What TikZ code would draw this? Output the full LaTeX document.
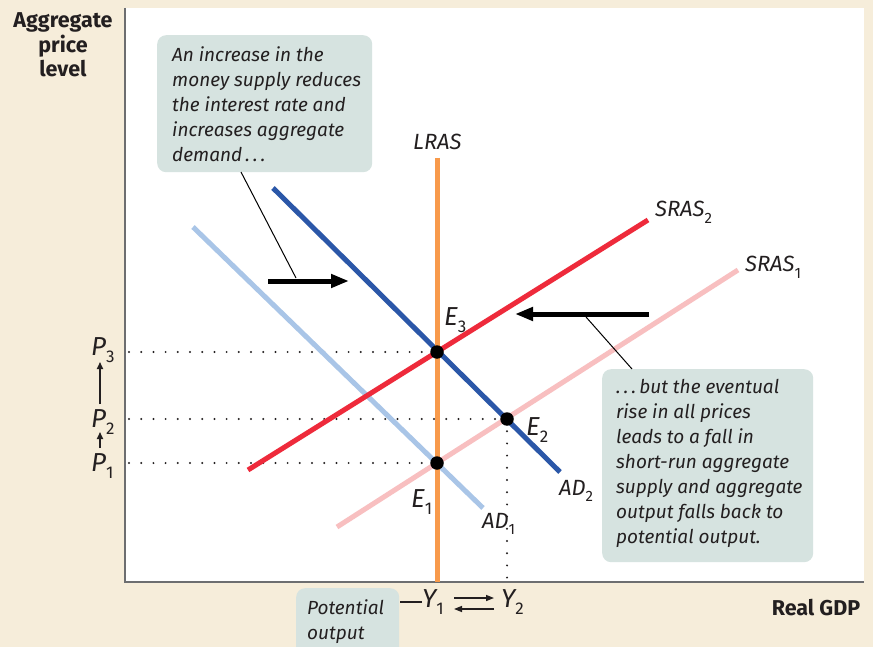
\documentclass[tikz,border=0pt]{standalone}
\usepackage{fontspec}
\setmainfont{Fira Sans}
\usetikzlibrary{arrows.meta}
\definecolor{bgc}{RGB}{246,237,218}
\definecolor{callc}{RGB}{214,227,224}
\definecolor{lrasc}{RGB}{248,154,75}
\definecolor{adtwo}{RGB}{43,87,168}
\definecolor{adone}{RGB}{169,197,231}
\definecolor{srastwo}{RGB}{238,42,59}
\definecolor{srasone}{RGB}{248,191,192}
\definecolor{axisc}{RGB}{109,110,112}
\definecolor{txt}{RGB}{35,31,32}
\newcommand\mysub[1]{\raisebox{-0.3em}{\fontsize{15}{15}\selectfont\upshape #1}}
\newcommand\mybigsub[1]{\raisebox{-0.28em}{\fontsize{17}{17}\selectfont\upshape #1}}
\begin{document}
\begin{tikzpicture}[x=1pt,y=-1pt,
  curve/.style={line width=5pt},
  dotline/.style={line width=2.2pt, line cap=round, dash pattern=on 0pt off 12.2pt, txt},
  eqdot/.style={circle, fill=black, minimum size=13.5pt, inner sep=0pt},
  glabel/.style={font=\fontsize{22}{24}\selectfont\itshape, text=txt, inner sep=0pt, anchor=base west},
  biglabel/.style={font=\fontsize{26}{28}\selectfont\itshape, text=txt, inner sep=0pt, anchor=base west},
  axlabel/.style={font=\fontsize{21.5}{24.5}\selectfont\bfseries, text=txt, align=center, inner sep=0pt},
  calloutbox/.style={fill=callc, rounded corners=9pt, anchor=north west, inner sep=0pt},
  callouttext/.style={font=\fontsize{19}{25}\selectfont\itshape, text=txt, align=left, inner sep=0pt, anchor=north west},
  shiftarrow/.style={line width=5pt, -{Triangle[length=18pt,width=13pt]}},
  leader/.style={line width=1pt, black},
  smallarrow/.style={line width=1.6pt, txt, -{Triangle[length=7pt,width=6pt]}}
]
\useasboundingbox (0,0) rectangle (873,647);
\fill[bgc] (0,0) rectangle (873,647);
\fill[white] (125,8) rectangle (864,582);

% axes
\coordinate (otop) at (125,8);
\coordinate (orig) at (125,582);
\coordinate (xend) at (864,582);
\draw[axisc, line width=2pt] (otop) -- (orig) -- (xend);

% axis labels
\node[axlabel, anchor=north] (ylab) at (63,12.5) {Aggregate\\price\\level};
\node[axlabel, anchor=base] (xlab) at (816,615) {Real GDP};

% curve endpoints
\coordinate (lrasT) at (437,158);
\coordinate (lrasB) at (437,582);
\coordinate (ad1a) at (193,227);
\coordinate (ad1b) at (483,508);
\coordinate (ad2a) at (273,188);
\coordinate (ad2b) at (560,472);
\coordinate (s1a) at (337,527);
\coordinate (s1b) at (738,270);
\coordinate (s2a) at (248,470);
\coordinate (s2b) at (648,220);

% equilibria
\coordinate (E1c) at (437,463);
\coordinate (E2c) at (507,419);
\coordinate (E3c) at (437,352);

% dotted guides
\coordinate (yP3) at (129,352);
\coordinate (yP2) at (129,419);
\coordinate (yP1) at (129,463);
\coordinate (xY2) at (507,581);
\draw[dotline] (yP3) -- (E3c);
\draw[dotline] (yP2) -- (E2c);
\draw[dotline] (yP1) -- (E1c);
\draw[dotline] (E2c) -- (xY2);

% curves
\draw[curve, srasone] (s1a) -- (s1b);
\draw[curve, adone] (ad1a) -- (ad1b);
\draw[curve, adtwo] (ad2a) -- (ad2b);
\draw[curve, srastwo] (s2a) -- (s2b);
\draw[curve, lrasc] (lrasT) -- (lrasB);

\node[eqdot] (E3) at (E3c) {};
\node[eqdot] (E2) at (E2c) {};
\node[eqdot] (E1) at (E1c) {};

% curve labels
\node[glabel] (lraslab) at (413,150) {LRAS};
\node[glabel] (s2lab) at (655,217) {SRAS\mysub{2}};
\node[glabel] (s1lab) at (745,272) {SRAS\mysub{1}};
\node[glabel] (ad1lab) at (482,528) {AD\mysub{1}};
\node[glabel] (ad2lab) at (559,495) {AD\mysub{2}};
\node[biglabel] (e3lab) at (444,325) {E\mybigsub{3}};
\node[biglabel] (e2lab) at (526,435) {E\mybigsub{2}};
\node[biglabel] (e1lab) at (411,507) {E\mybigsub{1}};

% price labels
\node[biglabel] (p3) at (91,355) {P\mybigsub{3}};
\node[biglabel] (p2) at (91,427) {P\mybigsub{2}};
\node[biglabel] (p1) at (91,471) {P\mybigsub{1}};
\coordinate (a1s) at (100,404);
\coordinate (a1e) at (100,362);
\coordinate (a2s) at (100,448);
\coordinate (a2e) at (100,432);
\draw[smallarrow] (a1s) -- (a1e);
\draw[smallarrow] (a2s) -- (a2e);

% shift arrows
\coordinate (bluea) at (268,281);
\coordinate (blueb) at (349,281);
\coordinate (reda) at (649,314);
\coordinate (redb) at (515,314);
\draw[shiftarrow] (bluea) -- (blueb);
\draw[shiftarrow] (reda) -- (redb);

% callouts
\node[calloutbox, minimum width=215pt, minimum height=137pt] (c1) at (157,35) {};
\node[callouttext] (c1t) at (172,46.5)
{An increase in the\\money supply reduces\\the interest rate and\\increases aggregate\\demand\,.\,.\,.};
\node[calloutbox, minimum width=211pt, minimum height=193pt] (c2) at (602,369) {};
\node[callouttext] (c2t) at (616,379.5)
{.\,.\,.\,but the eventual\\rise in all prices\\leads to a fall in\\short-run aggregate\\supply and aggregate\\output falls back to\\potential output.};
\node[calloutbox, minimum width=103pt, minimum height=70pt] (c3) at (296,588) {};
\node[callouttext] (c3t) at (307,599.5) {Potential\\output};

\coordinate (l1a) at (241,172);
\coordinate (l1b) at (296,278);
\coordinate (l2a) at (586,317);
\coordinate (l2b) at (632,369);
\draw[leader] (l1a) -- (l1b);
\draw[leader] (l2a) -- (l2b);

% Y labels
\node[biglabel] (y1) at (422,607) {Y\mybigsub{1}};
\node[biglabel] (y2) at (501,607) {Y\mybigsub{2}};
\coordinate (dasha) at (400,602);
\coordinate (dashb) at (422,602);
\draw[line width=1.2pt, txt] (dasha) -- (dashb);
\coordinate (ra) at (454,598);
\coordinate (rb) at (494,598);
\coordinate (la) at (494,609);
\coordinate (lb) at (454,609);
\draw[line width=1.4pt, txt, -{Triangle[length=8pt,width=6pt]}] (ra) -- (rb);
\draw[line width=1.4pt, txt, -{Triangle[length=8pt,width=6pt]}] (la) -- (lb);
\end{tikzpicture}
\end{document}
